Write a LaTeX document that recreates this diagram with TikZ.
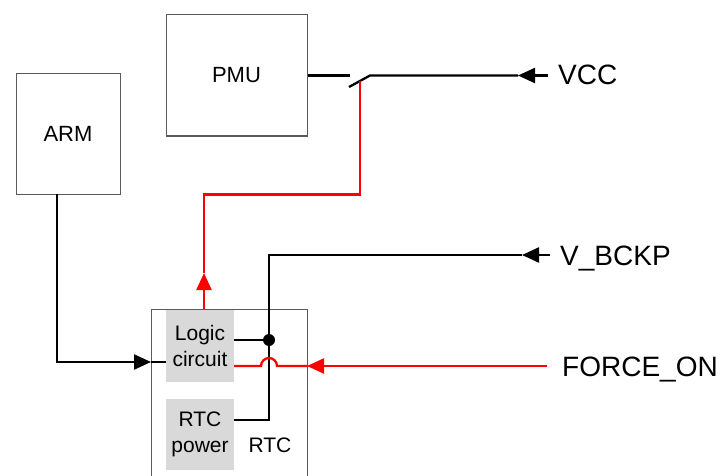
\documentclass[tikz,border=0pt]{standalone}
\usepackage{fontspec}
\setmainfont{Liberation Sans}
\usetikzlibrary{arrows.meta}
\definecolor{boxline}{RGB}{90,90,90}
\definecolor{fillgray}{RGB}{217,217,217}
\definecolor{wirered}{RGB}{255,0,0}
\begin{document}
\begin{tikzpicture}[x=1pt,y=-1pt,
  blk/.style={draw=boxline,line width=1pt,inner sep=0pt,font=\fontsize{22}{26}\selectfont},
  gbox/.style={fill=fillgray,inner sep=0pt,align=center,font=\fontsize{21}{26}\selectfont},
  wire/.style={line width=2.3pt,black},
  rwire/.style={line width=2.3pt,wirered},
  tipx/.style={-{Triangle[length=17pt,width=15pt]}},
  lbl/.style={anchor=base west,inner sep=0pt,font=\fontsize{28}{32}\selectfont}]
\useasboundingbox (0,0) rectangle (725,476);
% blocks
\node[blk,minimum width=104pt,minimum height=120pt] (arm) at (68,134) {ARM};
\node[blk,minimum width=141pt,minimum height=121pt] (pmu) at (236.5,75.5) {PMU};
\node[draw=boxline,line width=1pt,minimum width=156pt,minimum height=190pt,anchor=north west,inner sep=0pt] (rtc) at (151,309) {};
\node[gbox,minimum width=68pt,minimum height=72pt] (logic) at (200,346) {Logic\\circuit};
\node[gbox,minimum width=68pt,minimum height=71pt] (rtcp) at (200,434.5) {RTC\\power};
\node[anchor=base,inner sep=0pt,font=\fontsize{21}{26}\selectfont] (rtclbl) at (270,452) {RTC};
% labels
\node[lbl] (vcc) at (558,85) {VCC};
\node[lbl] (vbckp) at (560,265) {V\_BCKP};
\node[lbl] (force) at (562,376) {FORCE\_ON};
% coordinates
\coordinate (sw1) at (350,75.5);
\coordinate (swa) at (349,87);
\coordinate (swb) at (370,75.5);
\coordinate (swmid) at (360,81.5);
\coordinate (vccin) at (548,75.5);
\coordinate (vcctip) at (518,75.5);
\coordinate (vbin) at (550,255);
\coordinate (vbtip) at (522,255);
\coordinate (vbc) at (269,255);
\coordinate (rtcpin) at (234,420);
\coordinate (lgo) at (234,340);
\coordinate (jdot) at (269,340);
\coordinate (fin) at (547,366);
\coordinate (ftip) at (307,366);
\coordinate (hopr) at (277,366);
\coordinate (lgi) at (234,366);
\coordinate (rup0) at (204,309);
\coordinate (rtip) at (204,273);
\coordinate (rc1) at (204,194.5);
\coordinate (rc2) at (360,194.5);
\coordinate (armout) at (57,194);
\coordinate (armtip) at (151,362);
\coordinate (armin) at (166,362);
% VCC and switch
\draw[wire] (pmu.east) -- (sw1);
\draw[wire] (swa) -- (swb) -- (vcctip);
\draw[wire,tipx] (vccin) -- (vcctip);
% red from logic to switch
\draw[rwire,tipx] (rup0) -- (rtip);
\draw[rwire] (rtip) -- (rc1) -- (rc2) -- (swmid);
% ARM to logic
\draw[wire,tipx] (armout) |- (armtip);
\draw[wire] (armtip) -- (armin);
% V_BCKP
\draw[wire,tipx] (vbin) -- (vbtip);
\draw[wire] (vbtip) -- (vbc) -- (vbc |- rtcpin) -- (rtcpin);
\draw[wire] (lgo) -- (jdot);
\fill (jdot) circle (6pt);
% FORCE_ON
\draw[rwire,tipx] (fin) -- (ftip);
\draw[rwire] (ftip) -- (hopr) arc[start angle=0,end angle=180,radius=8pt] -- (lgi);
\end{tikzpicture}
\end{document}
